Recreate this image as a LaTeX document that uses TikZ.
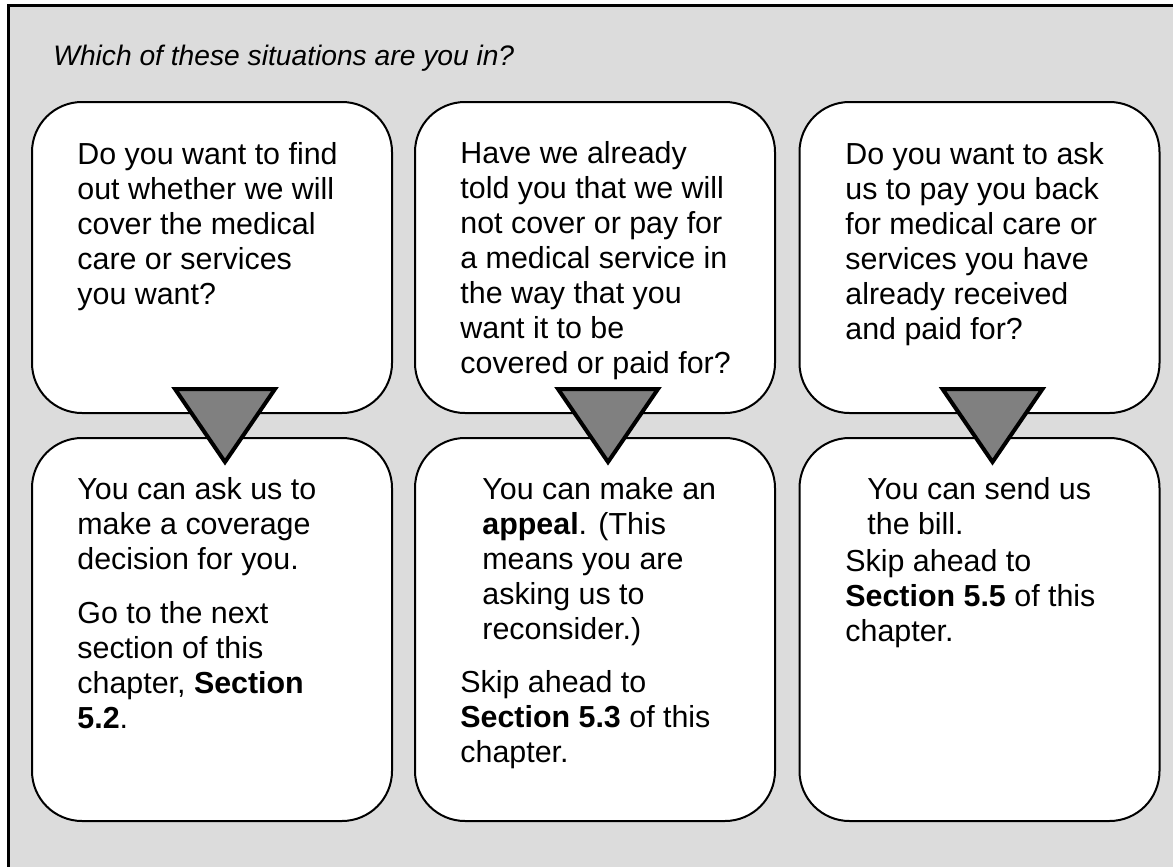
\documentclass[tikz,border=0pt]{standalone}
\usepackage{fontspec}
\setmainfont{Liberation Sans}
\usetikzlibrary{calc}
\definecolor{panelgray}{HTML}{DCDCDC}
\definecolor{arrowgray}{HTML}{808080}
\tikzset{
	situation/.style={draw=black, line width=1pt, fill=white, rounded corners=25pt, inner sep=0pt, minimum width=180pt},
	askbox/.style={situation, minimum height=155.5pt},
	answerbox/.style={situation, minimum height=191.5pt},
	boxtext/.style={anchor=north west, inner sep=0pt, align=left, font=\fontsize{15.2}{17.5}\selectfont},
	pointer/.style={draw=black, line width=2pt, fill=arrowgray, line join=miter}
}

\begin{document}
\begin{tikzpicture}[x=0.5pt, y=-0.5pt]
			%%%%% START %%%%%
			\useasboundingbox (0, 0) rectangle (1173, 867);
			\fill[panelgray] (10, 7) rectangle (1173, 867);
			\draw[line width=1.5pt] (8.5, 867) -- (8.5, 5.5) -- (1173, 5.5);
			
			\node[anchor=base west, inner sep=0pt, font=\fontsize{14.1}{17}\selectfont\itshape] (title) at (53, 65) {Which of these situations are you in?};
			
			% questions
			\node[askbox] (q1) at (212, 257.5) {};
			\node[askbox] (q2) at (595, 257.5) {};
			\node[askbox] (q3) at (979.5, 257.5) {};
			
			% answers
			\node[answerbox] (a1) at (212, 629.5) {};
			\node[answerbox] (a2) at (595, 629.5) {};
			\node[answerbox] (a3) at (979.5, 629.5) {};
			
			\node[boxtext] (q1text) at (77, 142) {Do you want to find\\out whether we will\\cover the medical\\care or services\\you want?};
			\node[boxtext] (q2text) at (460, 141) {Have we already\\told you that we will\\not cover or pay for\\a medical service in\\the way that you\\want it to be\\covered or paid for?};
			\node[boxtext] (q3text) at (845, 142) {Do you want to ask\\us to pay you back\\for medical care or\\services you have\\already received\\and paid for?};
			
			\node[boxtext] (a1text) at (77, 477) {You can ask us to\\make a coverage\\decision for you.};
			\node[boxtext] (a1next) at (77, 601) {Go to the next\\section of this\\chapter, \textbf{Section}\\\textbf{5.2}.};
			
			\node[boxtext] (a2text) at (482, 477) {You can make an\\\textbf{appeal}. (This\\means you are\\asking us to\\reconsider.)};
			\node[boxtext] (a2next) at (460, 670) {Skip ahead to\\\textbf{Section 5.3} of this\\chapter.};
			
			\node[boxtext] (a3text) at (867, 477) {You can send us\\the bill.};
			\node[boxtext] (a3next) at (845, 549) {Skip ahead to\\\textbf{Section 5.5} of this\\chapter.};
			
			% pointers
			\draw[pointer] ($(q1.south)+(-37, -25)$) -- ($(q1.south)+(63, -25)$) -- ($(a1.north)+(13, 25)$) -- cycle;
			\draw[pointer] ($(q2.south)+(-37, -25)$) -- ($(q2.south)+(63, -25)$) -- ($(a2.north)+(13, 25)$) -- cycle;
			\draw[pointer] ($(q3.south)+(-37, -25)$) -- ($(q3.south)+(63, -25)$) -- ($(a3.north)+(13, 25)$) -- cycle;
			%%%%% END %%%%%
		\end{tikzpicture}
\end{document}
